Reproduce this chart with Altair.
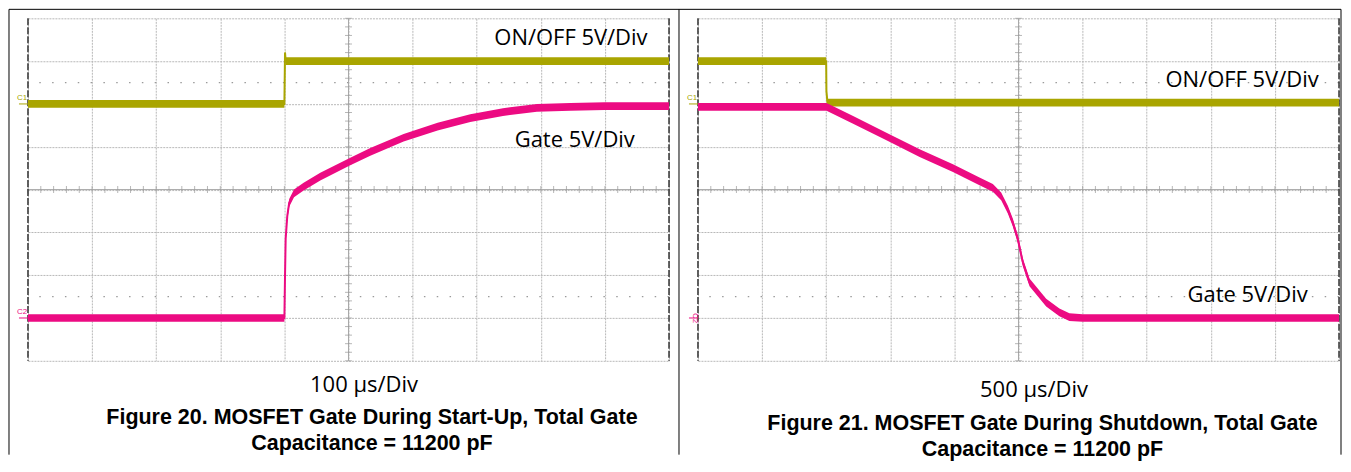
import altair as alt
import pandas as pd

# ---------------- data read from the two oscilloscope screens ----------------
# Levels are in screen divisions from the centre line (5 V/div), time in µs.
# Figure 20 : start-up, 100 µs/div
up_t_onoff = [0, 400, 401, 402, 1000]
up_onoff = [2.0, 2.0, 3.2, 3.0, 3.0]
up_t_gate = [0, 400, 401, 402, 404.5, 407.5, 415, 430, 456, 502, 534, 586,
             639, 690, 741, 794, 846, 900, 1000]
up_gate = [-3.0, -3.0, -2.0, -1.15, -0.62, -0.31, -0.09, 0.07, 0.30, 0.65,
           0.88, 1.21, 1.47, 1.67, 1.81, 1.91, 1.93, 1.95, 1.95]

# Figure 21 : shutdown, 500 µs/div
dn_t_onoff = [0, 1000, 1002, 1010, 5000]
dn_onoff = [3.0, 3.0, 2.3, 2.03, 2.03]
dn_t_gate = [0, 1000, 1003, 1210, 1470, 1729, 1989, 2196, 2300, 2365, 2417,
             2456, 2495, 2534, 2586, 2716, 2819, 2897, 3000, 5000]
dn_gate = [1.93, 1.93, 1.93, 1.63, 1.24, 0.85, 0.50, 0.19, 0.04, -0.16, -0.47,
           -0.77, -1.16, -1.70, -2.17, -2.64, -2.87, -2.98, -3.0, -3.0]

# trace annotations
labels = ["ON/OFF 5V/Div", "Gate 5V/Div"]
up_label_t = [847, 853]
up_label_v = [3.53, 1.16]
dn_label_t = [4244, 4287]
dn_label_v = [2.56, -2.47]

# channel reference markers
ch_names = ["C1", "C2"]
ch_levels = [2.0, -3.0]

up_timebase = "100 µs/Div"
dn_timebase = "500 µs/Div"
up_caption = ["Figure 20. MOSFET Gate During Start-Up, Total Gate",
              "Capacitance = 11200 pF"]
dn_caption = ["Figure 21. MOSFET Gate During Shutdown, Total Gate",
              "Capacitance = 11200 pF"]

# ---------------- styling ----------------
OLIVE = "#a9a500"
MAGENTA = "#ec0b82"
GRID = "#b8b8b8"
W, H = 642, 343
HALF = 0.09  # half thickness of the noisy trace band (divisions)


def panel(t_on, v_on, t_g, v_g, tmax, lab_t, lab_v, timebase, caption,
          title_y, cap_y, cap_x, c2_angle, frame=False):
    xs = alt.Scale(domain=[0, tmax], nice=False, zero=False)
    ys = alt.Scale(domain=[-4, 4], nice=False, zero=False)
    xaxis = alt.Axis(values=[tmax * i / 10 for i in range(11)], grid=True,
                     gridColor=GRID, gridDash=[2, 1], gridWidth=1,
                     labels=False, ticks=False, domain=False,
                     title=timebase, titleFont="Open Sans", titleFontSize=22,
                     titleFontWeight="normal", titleColor="black",
                     titleX=336, titleY=title_y, titleAlign="center",
                     titleBaseline="middle")
    yaxis = alt.Axis(values=list(range(-4, 5)), grid=True, gridColor=GRID,
                     gridDash=[2, 1], gridWidth=1, labels=False, ticks=False,
                     domain=False, title=None)

    def X(f):
        return alt.X(f, scale=xs, axis=xaxis)

    def Y(f):
        return alt.Y(f, scale=ys, axis=yaxis)

    on_df = pd.DataFrame({"t": t_on, "v": v_on})
    g_df = pd.DataFrame({"t": t_g, "v": v_g})

    layers = []
    # dotted rows at +/- 2.5 div
    layers.append(alt.Chart(pd.DataFrame({"v": [2.5, -2.5]})).mark_rule(
        color="#9a9a9a", strokeWidth=1.3, strokeDash=[1.5, 11.34]).encode(y=Y("v:Q")))
    # centre cross
    layers.append(alt.Chart(pd.DataFrame({"v": [0]})).mark_rule(
        color="#a8a8a8", strokeWidth=1).encode(y=Y("v:Q")))
    layers.append(alt.Chart(pd.DataFrame({"t": [tmax / 2]})).mark_rule(
        color="#a8a8a8", strokeWidth=1).encode(x=X("t:Q")))
    # minor ticks on the centre cross
    layers.append(alt.Chart(alt.sequence(0, tmax * 1.001, tmax / 50, as_="t"))
                  .mark_tick(orient="vertical", size=7, thickness=1, color="#999999")
                  .encode(x=X("t:Q"), y=alt.YDatum(0, axis=yaxis, scale=ys)))
    layers.append(alt.Chart(alt.sequence(-4, 4.001, 0.2, as_="v"))
                  .mark_tick(orient="horizontal", size=7, thickness=1, color="#999999")
                  .encode(y=Y("v:Q"), x=alt.XDatum(tmax / 2, axis=xaxis, scale=xs)))
    # screen side edges (dark dashed)
    layers.append(alt.Chart(pd.DataFrame({"t": [0, tmax]})).mark_rule(
        color="#333333", strokeWidth=1.5, strokeDash=[7, 2]).encode(x=X("t:Q")))

    # ON/OFF trace (band + core line)
    layers.append(alt.Chart(on_df).transform_calculate(
        lo=f"datum.v - {HALF}", hi=f"datum.v + {HALF}").mark_area(color=OLIVE)
        .encode(x=X("t:Q"), y=Y("lo:Q"), y2="hi:Q"))
    layers.append(alt.Chart(on_df).mark_line(color=OLIVE, strokeWidth=2)
                  .encode(x=X("t:Q"), y=Y("v:Q")))
    # Gate trace
    layers.append(alt.Chart(g_df).transform_calculate(
        lo=f"datum.v - {HALF}", hi=f"datum.v + {HALF}").mark_area(color=MAGENTA)
        .encode(x=X("t:Q"), y=Y("lo:Q"), y2="hi:Q"))
    layers.append(alt.Chart(g_df).mark_line(color=MAGENTA, strokeWidth=2)
                  .encode(x=X("t:Q"), y=Y("v:Q")))

    # trace labels
    lab_df = pd.DataFrame({"t": lab_t, "v": lab_v, "label": labels})
    layers.append(alt.Chart(lab_df).mark_text(
        font="Open Sans", fontSize=22, color="black", align="center",
        baseline="middle").encode(x=X("t:Q"), y=Y("v:Q"), text="label:N"))

    # channel markers C1 / C2 at the left edge
    for name, lvl, col in zip(ch_names, ch_levels, [OLIVE, MAGENTA]):
        layers.append(alt.Chart(pd.DataFrame({"v": [lvl]})).mark_rule(
            color=col, strokeWidth=1).encode(
            x=alt.value(-9), x2=alt.value(0), y=Y("v:Q")))
        ang = c2_angle if name == "C2" else 0
        layers.append(alt.Chart(pd.DataFrame({"v": [lvl], "n": [name]})).mark_text(
            font="Liberation Sans", fontSize=8, color=col, align="center",
            baseline="middle", angle=ang, dy=-6 if ang == 0 else -5).encode(
            x=alt.value(-6 if ang == 0 else -8), y=Y("v:Q"), text="n:N"))

    # figure caption (two bold lines below the screen)
    for i, line in enumerate(caption):
        layers.append(alt.Chart(pd.DataFrame({"k": [0]})).mark_text(
            font="Liberation Sans", fontSize=21.5, fontWeight="bold",
            color="black", align="center", baseline="alphabetic").encode(
            x=alt.value(cap_x), y=alt.value(H + cap_y + 26 * i),
            text=alt.value(line)))

    if frame:
        # table frame around both figures
        layers.append(alt.Chart(pd.DataFrame({"k": [0]})).mark_rule(
            color="black", strokeWidth=1).encode(
            x=alt.value(-19), x2=alt.value(1315), y=alt.value(-9)))
        for px in (-19, 652, 1315):
            layers.append(alt.Chart(pd.DataFrame({"k": [0]})).mark_rule(
                color="black", strokeWidth=1).encode(
                x=alt.value(px), y=alt.value(-9), y2=alt.value(437)))

    return alt.layer(*layers).properties(width=W, height=H)


left = panel(up_t_onoff, up_onoff, up_t_gate, up_gate, 1000, up_label_t,
             up_label_v, up_timebase, up_caption, 24, 63.5, 344.5, 0, frame=True)
right = panel(dn_t_onoff, dn_onoff, dn_t_gate, dn_gate, 5000, dn_label_t,
              dn_label_v, dn_timebase, dn_caption, 29, 69.5, 345, 90)

chart = alt.hconcat(left, right, spacing=29, bounds="flush").properties(
    padding=0, background="white"
).configure_view(stroke=None)

chart.save("out.html", embed_options={"renderer": "svg", "actions": False})
